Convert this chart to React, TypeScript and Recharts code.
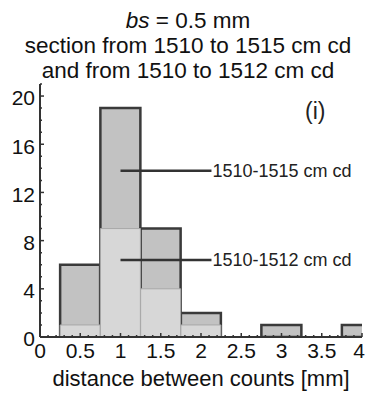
import { ComposedChart, Bar, XAxis, YAxis, ReferenceLine, ReferenceDot } from "recharts";

// histogram bins (bin width 0.5 mm)
const binCenters = [0.5, 1, 1.5, 2, 2.5, 3, 3.5, 4];
const countsLong = [6, 19, 9, 2, 0, 1, 0, 1]; // 1510-1515 cm cd
const countsShort = [1, 9, 4, 1, 0, 0, 0, 0]; // 1510-1512 cm cd

const xMajorTicks = [0, 0.5, 1, 1.5, 2, 2.5, 3, 3.5, 4];
const xMinorTicks = Array.from({ length: 41 }, (_, i) => i / 10);
const yMajorTicks = [0, 4, 8, 12, 16, 20];
const yMinorTicks = Array.from({ length: 22 }, (_, i) => i);

const seriesLabels = ["1510-1515 cm cd", "1510-1512 cm cd"];
const labelLevels = [13.8, 6.4];
const labelStart = 1;
const labelEnd = 2.13;

const data = binCenters.map((x, i) => ({ x, long: countsLong[i], short: countsShort[i] }));

const FONT = "'Liberation Sans', Arial, sans-serif";
const FRAME = "#333";

const majorX = (v: number) => xMajorTicks.find((t) => Math.abs(t - v) < 1e-6);
const majorY = (v: number) => yMajorTicks.find((t) => Math.abs(t - v) < 1e-6);

const BottomTick = (props: any) => {
  const { x, y, payload } = props;
  const m = majorX(payload.value);
  const last = m === xMajorTicks[xMajorTicks.length - 1];
  return (
    <g>
      <line x1={x} x2={x} y1={y} y2={y - (m !== undefined ? 4 : 2)} stroke={FRAME} strokeWidth={1.5} />
      {m !== undefined && (
        <text
          x={last ? x + 3 : x}
          y={y + 21}
          textAnchor={last ? "end" : "middle"}
          fontSize={21}
          fontFamily={FONT}
          fill="#111"
        >
          {String(m)}
        </text>
      )}
    </g>
  );
};

const TopTick = (props: any) => {
  const { x, y, payload } = props;
  const m = majorX(payload.value);
  return <line x1={x} x2={x} y1={y} y2={y + (m !== undefined ? 4 : 2)} stroke={FRAME} strokeWidth={1.5} />;
};

const LeftTick = (props: any) => {
  const { x, y, payload } = props;
  const m = majorY(payload.value);
  return (
    <g>
      <line x1={x} x2={x + (m !== undefined ? 4 : 2)} y1={y} y2={y} stroke={FRAME} strokeWidth={1.5} />
      {m !== undefined && (
        <text x={x - 5} y={y} dy="0.45em" textAnchor="end" fontSize={21} fontFamily={FONT} fill="#111">
          {String(m)}
        </text>
      )}
    </g>
  );
};

const RightTick = (props: any) => {
  const { x, y, payload } = props;
  const m = majorY(payload.value);
  return <line x1={x} x2={x - (m !== undefined ? 4 : 2)} y1={y} y2={y} stroke={FRAME} strokeWidth={1.5} />;
};

export default function App() {
  return (
    <div style={{ position: "absolute", left: 0, top: 0, width: 365, height: 398, background: "#fff", fontFamily: FONT }}>
      <div
        style={{
          position: "absolute",
          left: 0,
          top: 8,
          width: 376,
          textAlign: "center",
          fontSize: 22.5,
          lineHeight: "25px",
          color: "#111",
        }}
      >
        <div>
          <i>bs</i> = 0.5 mm
        </div>
        <div>section from 1510 to 1515 cm cd</div>
        <div>and from 1510 to 1512 cm cd</div>
      </div>
      <div style={{ position: "absolute", left: 305, top: 100, fontSize: 23, lineHeight: "23px", color: "#222" }}>(i)</div>
      <ComposedChart
        width={365}
        height={398}
        data={data}
        margin={{ top: 84, right: 3, left: 0, bottom: 0 }}
        barCategoryGap={0}
        barGap={0}
        style={{ position: "absolute", left: 0, top: 0 }}
      >
        <XAxis
          xAxisId="main"
          dataKey="x"
          type="number"
          domain={[0, 4]}
          ticks={xMinorTicks}
          interval={0}
          tick={<BottomTick />}
          tickLine={false}
          tickSize={0}
          tickMargin={0}
          axisLine={{ stroke: FRAME, strokeWidth: 2 }}
          height={61}
          allowDataOverflow
          label={{ value: "distance between counts [mm]", position: "insideBottom", offset: 12, fontSize: 22, fill: "#111", fontFamily: FONT }}
        />
        <XAxis xAxisId="long" dataKey="x" type="number" domain={[0, 4]} hide height={0} allowDataOverflow />
        <XAxis xAxisId="short" dataKey="x" type="number" domain={[0, 4]} hide height={0} allowDataOverflow />
        <XAxis
          xAxisId="top"
          orientation="top"
          dataKey="x"
          type="number"
          domain={[0, 4]}
          ticks={xMinorTicks}
          interval={0}
          tick={<TopTick />}
          tickLine={false}
          tickSize={0}
          tickMargin={0}
          axisLine={{ stroke: FRAME, strokeWidth: 2 }}
          height={0}
          allowDataOverflow
        />
        <YAxis
          type="number"
          domain={[0, 21]}
          ticks={yMinorTicks}
          interval={0}
          tick={<LeftTick />}
          tickLine={false}
          tickSize={0}
          tickMargin={0}
          axisLine={{ stroke: FRAME, strokeWidth: 2 }}
          width={40}
          allowDataOverflow
        />
        <YAxis
          yAxisId="right"
          orientation="right"
          type="number"
          domain={[0, 21]}
          ticks={yMinorTicks}
          interval={0}
          tick={<RightTick />}
          tickLine={false}
          tickSize={0}
          tickMargin={0}
          axisLine={{ stroke: FRAME, strokeWidth: 2 }}
          width={0}
          allowDataOverflow
        />
        <Bar
          xAxisId="long"
          dataKey="long"
          fill="#c2c2c2"
          stroke="#3a3a3a"
          strokeWidth={2.5}
          isAnimationActive={false}
        />
        <Bar
          xAxisId="short"
          dataKey="short"
          fill="#d7d7d7"
          stroke="#a8a8a8"
          strokeWidth={1}
          isAnimationActive={false}
        />
        {seriesLabels.map((s, i) => (
          <ReferenceLine
            key={`ln-${i}`}
            xAxisId="main"
            segment={[
              { x: labelStart, y: labelLevels[i] },
              { x: labelEnd, y: labelLevels[i] },
            ]}
            stroke="#333"
            strokeWidth={2.5}
          />
        ))}
        {seriesLabels.map((s, i) => (
          <ReferenceDot
            key={`lb-${i}`}
            xAxisId="main"
            x={labelEnd}
            y={labelLevels[i]}
            r={0}
            fill="none"
            stroke="none"
            label={{ value: s, position: "right", offset: 1, fontSize: 18, fill: "#222", fontFamily: FONT }}
          />
        ))}
      </ComposedChart>
    </div>
  );
}
